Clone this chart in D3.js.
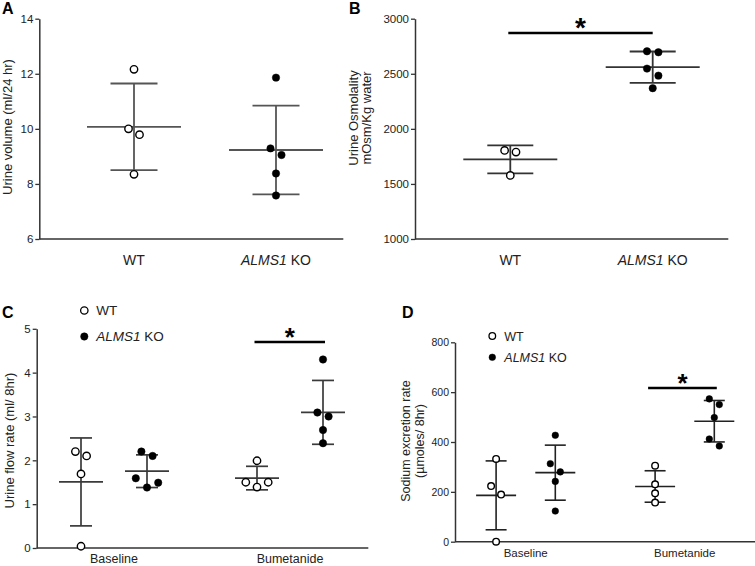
<!DOCTYPE html>
<html><head><meta charset="utf-8">
<script src="https://cdn.jsdelivr.net/npm/d3@7"></script>
<style>
body{margin:0;background:#fff;}
svg{display:block;}
</style></head><body>
<svg id="fig" width="755" height="566"></svg>
<script>
// ---------- data ----------
const groupsAB = ["WT", "ALMS1 KO"];
const volumeWT = [12.16, 10.0, 9.79, 8.35];
const volumeKO = [11.86, 9.29, 9.05, 8.38, 7.58];
const volumeTicks = [6, 8, 10, 12, 14];

const osmoWT = [1804, 1789, 1577];
const osmoKO = [2704, 2695, 2547, 2483, 2369];
const osmoTicks = [1000, 1500, 2000, 2500, 3000];
const osmoSig = 2870;

const conditions = ["Baseline", "Bumetanide"];
const flowWT = [[2.10, 2.20, 1.69, 0.04], [1.99, 1.50, 1.50, 1.39]];
const flowKO = [[2.20, 2.10, 1.59, 1.49, 1.38], [4.30, 3.09, 3.00, 2.69, 2.39]];
const flowTicks = [0, 1, 2, 3, 4, 5];
const flowSig = 4.70;

const sodiumWT = [[332, 223, 189, 0], [305, 230, 194, 157]];
const sodiumKO = [[427, 313, 280, 242, 123], [573, 550, 498, 412, 384]];
const sodiumTicks = [0, 200, 400, 600, 800];
const sodiumSig = 617;

const legendLabels = ["WT", "ALMS1 KO"];

// ---------- helpers ----------
const FONT = '"Liberation Sans", Arial, Helvetica, sans-serif';
const svg = d3.select("#fig").attr("font-family", FONT);

function yAxis(x, scale, ticks, fs, color) {
  const ax = svg.append("g").attr("transform", `translate(${x},0)`)
    .call(d3.axisLeft(scale).tickValues(ticks).tickSize(4).tickSizeOuter(0).tickPadding(2).tickFormat(d3.format("d")));
  ax.attr("font-family", FONT).attr("font-size", fs);
  ax.select(".domain").attr("stroke", color).attr("stroke-width", 1.5);
  ax.selectAll(".tick line").attr("stroke", color).attr("stroke-width", 1.3);
  ax.selectAll(".tick text").attr("fill", "#222");
}
function xLine(x0, x1, y, color) {
  svg.append("line").attr("x1", x0).attr("x2", x1).attr("y1", y).attr("y2", y)
    .attr("stroke", color).attr("stroke-width", 1.5);
}
function swarm(vals, y, r, d) {
  const idx = vals.map((v, i) => i).sort((a, b) => vals[b] - vals[a]);
  const offs = new Array(vals.length).fill(0);
  const thr = 2 * r + 2;
  let cluster = [idx[0]];
  const flush = () => {
    const n = cluster.length;
    let pat;
    if (n === 1) pat = [0];
    else if (n === 2) pat = [-d, d];
    else if (n === 3) pat = [-2 * d, 2 * d, 0];
    else pat = cluster.map((_, k) => (k - (n - 1) / 2) * 2 * d);
    cluster.forEach((id, k) => offs[id] = pat[k]);
  };
  for (let k = 1; k < idx.length; k++) {
    const prev = cluster[cluster.length - 1];
    if (Math.abs(y(vals[idx[k]]) - y(vals[prev])) < thr) cluster.push(idx[k]);
    else { flush(); cluster = [idx[k]]; }
  }
  flush();
  return offs;
}
function drawGroup(cx, vals, y, o, filled) {
  const g = svg.append("g");
  const m = d3.mean(vals), s = d3.deviation(vals);
  const line = (x1, y1, x2, y2) => g.append("line").attr("x1", x1).attr("y1", y1).attr("x2", x2).attr("y2", y2)
    .attr("stroke", o.color).attr("stroke-width", o.sw);
  line(cx - o.meanHalf, y(m), cx + o.meanHalf, y(m));
  line(cx - o.capHalf, y(m + s), cx + o.capHalf, y(m + s));
  line(cx - o.capHalf, y(m - s), cx + o.capHalf, y(m - s));
  line(cx, y(m + s), cx, y(m - s));
  const offs = swarm(vals, y, o.r, o.d);
  g.selectAll("circle").data(vals).join("circle")
    .attr("cx", (v, i) => cx + offs[i]).attr("cy", v => y(v)).attr("r", o.r)
    .attr("fill", filled ? "#000" : "#fff").attr("stroke", "#000")
    .attr("stroke-width", filled ? 0.5 : 1.4);
}
function koLabel(sel, label) {
  const parts = label.split(" ");
  if (parts.length > 1) {
    sel.append("tspan").attr("font-style", "italic").text(parts[0]);
    sel.append("tspan").text(" " + parts.slice(1).join(" "));
  } else sel.text(label);
}
function catLabel(x, y, label, fs) {
  const t = svg.append("text").attr("x", x).attr("y", y).attr("text-anchor", "middle")
    .attr("font-size", fs).attr("fill", "#222");
  koLabel(t, label);
}
function yTitle(lines, x0, dx, yc, fs) {
  lines.forEach((l, i) => {
    svg.append("text").attr("transform", `translate(${x0 + i * dx},${yc}) rotate(-90)`)
      .attr("text-anchor", "middle").attr("font-size", fs).attr("fill", "#222").text(l);
  });
}
function sigBar(xa, xb, y, fs) {
  svg.append("line").attr("x1", xa).attr("x2", xb).attr("y1", y).attr("y2", y)
    .attr("stroke", "#000").attr("stroke-width", 2.5);
  svg.append("text").attr("x", (xa + xb) / 2).attr("y", y + 0.16 * fs).attr("text-anchor", "middle")
    .attr("font-size", fs).attr("font-weight", "bold").text("*");
}
function panelLetter(x, y, l) {
  svg.append("text").attr("x", x).attr("y", y).attr("font-size", 16).attr("font-weight", "bold").text(l);
}
function legend(x, y1, y2, r, fs) {
  [y1, y2].forEach((yy, i) => {
    svg.append("circle").attr("cx", x).attr("cy", yy).attr("r", r)
      .attr("fill", i ? "#000" : "#fff").attr("stroke", "#000").attr("stroke-width", i ? 0.5 : 1.3);
    const t = svg.append("text").attr("x", x + 12).attr("y", yy + fs * 0.36).attr("font-size", fs).attr("fill", "#222");
    koLabel(t, legendLabels[i]);
  });
}

// ---------- Panel A ----------
{
  const y = d3.scaleLinear().domain([6, 14]).range([239, 18.7]);
  const x = d3.scalePoint().domain(groupsAB).range([134, 276]);
  const o = { meanHalf: 47, capHalf: 23.5, r: 3.7, d: 5.5, color: "#555", sw: 1.8 };
  yAxis(39.3, y, volumeTicks, 11.5, "#333");
  xLine(39.3, 343.3, 239, "#333");
  drawGroup(x("WT"), volumeWT, y, o, false);
  drawGroup(x("ALMS1 KO"), volumeKO, y, o, true);
  groupsAB.forEach(g => catLabel(x(g), 265, g, 14));
  yTitle(["Urine volume (ml/24 hr)"], 12, 0, 127, 13);
  panelLetter(2, 14, "A");
}
// ---------- Panel B ----------
{
  const y = d3.scaleLinear().domain([1000, 3000]).range([239, 18.7]);
  const x = d3.scalePoint().domain(groupsAB).range([510.3, 652.7]);
  const o = { meanHalf: 47, capHalf: 23, r: 3.7, d: 5.7, color: "#333", sw: 1.8 };
  yAxis(415, y, osmoTicks, 11.5, "#333");
  xLine(415, 728.3, 239, "#333");
  drawGroup(x("WT"), osmoWT, y, o, false);
  drawGroup(x("ALMS1 KO"), osmoKO, y, o, true);
  groupsAB.forEach(g => catLabel(x(g), 265, g, 14));
  yTitle(["Urine Osmolality", "mOsm/Kg water"], 357.5, 13.5, 118, 13);
  sigBar(x("WT") - 2, x("ALMS1 KO"), y(osmoSig), 28);
  panelLetter(349, 14, "B");
}
// ---------- Panel C ----------
{
  const y = d3.scaleLinear().domain([0, 5]).range([548, 328.8]);
  const x = d3.scalePoint().domain(conditions).range([114, 290]);
  const off = 33;
  const o = { meanHalf: 22, capHalf: 11, r: 3.7, d: 5.6, color: "#3a3a3a", sw: 1.7 };
  yAxis(36.7, y, flowTicks, 11.5, "#333");
  xLine(36.7, 368.3, 548, "#333");
  conditions.forEach((c, i) => {
    drawGroup(x(c) - off, flowWT[i], y, o, false);
    drawGroup(x(c) + off, flowKO[i], y, o, true);
    catLabel(x(c), 562.5, c, 12.5);
  });
  yTitle(["Urine flow rate (ml/ 8hr)"], 13.5, 0, 440.5, 13);
  sigBar(x("Bumetanide") - off - 2.5, x("Bumetanide") + off + 2, y(flowSig), 26);
  legend(84.3, 310.5, 336.5, 3.7, 13.5);
  panelLetter(2, 318, "C");
}
// ---------- Panel D ----------
{
  const y = d3.scaleLinear().domain([0, 800]).range([541.7, 342.3]);
  const x = d3.scalePoint().domain(conditions).range([525.7, 684.7]);
  const off = 29.6;
  const o = { meanHalf: 20, capHalf: 10.5, r: 3.3, d: 5, color: "#222", sw: 1.6 };
  yAxis(455, y, sodiumTicks, 10.5, "#333");
  xLine(455, 755, 541.7, "#333");
  conditions.forEach((c, i) => {
    drawGroup(x(c) - off, sodiumWT[i], y, o, false);
    drawGroup(x(c) + off, sodiumKO[i], y, o, true);
    catLabel(x(c), 557, c, 11.5);
  });
  yTitle(["Sodium excretion rate", "(µmoles/ 8hr)"], 410, 14, 441, 12.5);
  sigBar(x("Bumetanide") - off - 7, x("Bumetanide") + off + 2.5, y(sodiumSig), 26);
  legend(492.3, 336, 357.3, 3.3, 12.5);
  panelLetter(402, 318, "D");
}
</script>
</body></html>
